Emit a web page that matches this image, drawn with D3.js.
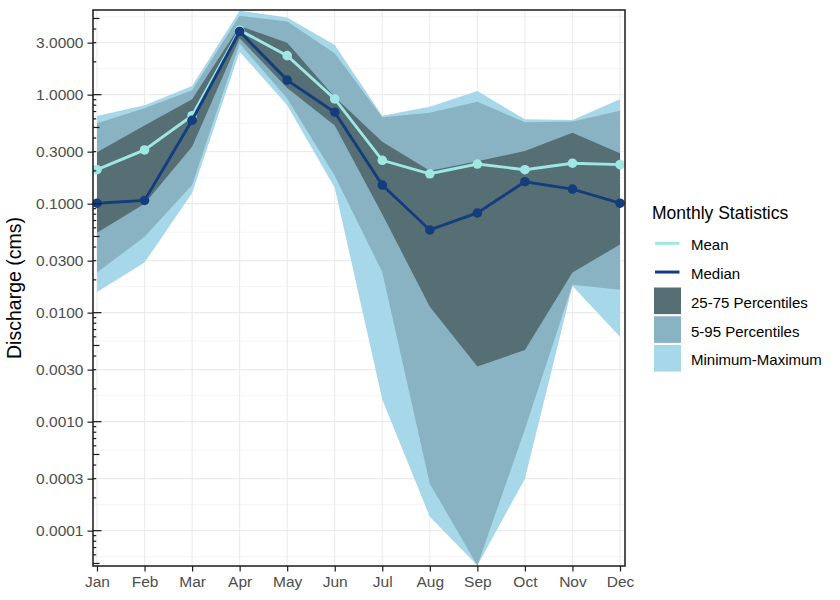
<!DOCTYPE html>
<html>
<head>
<meta charset="utf-8">
<script src="https://cdn.jsdelivr.net/npm/d3@7"></script>
<style>
  body { margin: 0; background: #fff; }
  text { font-family: "Liberation Sans", Arial, Helvetica, sans-serif; }
</style>
</head>
<body>
<script>
// monthly discharge statistics (cms)
var months = ['Jan','Feb','Mar','Apr','May','Jun','Jul','Aug','Sep','Oct','Nov','Dec'];
var meanQ   = [0.205, 0.311, 0.641, 3.9, 2.28, 0.913, 0.25, 0.188, 0.231, 0.205, 0.235, 0.228];
var medianQ = [0.101, 0.107, 0.582, 3.8, 1.36, 0.69, 0.148, 0.0574, 0.0822, 0.159, 0.136, 0.101];
var minQ    = [0.0155, 0.0288, 0.125, 2.48, 0.80, 0.14, 0.0016, 0.000134, 0.000048, 0.0003, 0.0176, 0.006];
var p5Q     = [0.0233, 0.0498, 0.148, 2.95, 0.92, 0.18, 0.0236, 0.00027, 0.000048, 0.00085, 0.018, 0.0162];
var p25Q    = [0.0542, 0.10, 0.333, 3.3, 1.15, 0.52, 0.08, 0.01135, 0.0032, 0.00455, 0.0233, 0.0423];
var p75Q    = [0.296, 0.52, 0.908, 4.27, 3.0, 0.95, 0.37, 0.2, 0.245, 0.304, 0.448, 0.29];
var p95Q    = [0.546, 0.75, 1.1, 5.3, 4.68, 2.4, 0.62, 0.684, 0.863, 0.558, 0.566, 0.713];
var maxQ    = [0.636, 0.80, 1.2, 5.9, 5.1, 2.86, 0.64, 0.776, 1.08, 0.594, 0.586, 0.908];
var yTicks  = [0.0001, 0.0003, 0.001, 0.003, 0.01, 0.03, 0.1, 0.3, 1, 3];

var W = 840, H = 600
var panel = { left: 93, right: 625, top: 10, bottom: 566 }

var colMinMax = '#a6d8e9', col595 = '#89b2c3', col2575 = '#566f75'
var colMean = '#9fe7e2', colMedian = '#143d7e'

var svg = d3.select('body').append('svg')
    .attr('width', W)
    .attr('height', H)

// Scales
var x = d3.scalePoint()
    .domain(months)
    .range([97, 620])
var y = d3.scaleLog()
    .domain([4.74e-5, 5.98])
    .range([panel.bottom, panel.top])

// grid: minor lines sit halfway (log space) between the major breaks
var logT = yTicks.map(function (v) { return Math.log10(v) })
var minor = []
for (var i = 0; i < logT.length - 1; i++) minor.push((logT[i] + logT[i + 1]) / 2)
minor.unshift(logT[0] - (logT[1] - logT[0]) / 2)
minor.push(logT[logT.length - 1] + (logT[logT.length - 1] - logT[logT.length - 2]) / 2)

var grid = svg.append('g')
grid.selectAll('.minor')
    .data(minor.filter(function (m) { var p = y(Math.pow(10, m)); return p > panel.top && p < panel.bottom }))
    .enter().append('line')
    .attr('x1', panel.left).attr('x2', panel.right)
    .attr('y1', function (m) { return y(Math.pow(10, m)) })
    .attr('y2', function (m) { return y(Math.pow(10, m)) })
    .attr('stroke', '#f2f2f2').attr('stroke-width', 0.8)
grid.selectAll('.major')
    .data(yTicks)
    .enter().append('line')
    .attr('x1', panel.left).attr('x2', panel.right)
    .attr('y1', function (d) { return y(d) }).attr('y2', function (d) { return y(d) })
    .attr('stroke', '#ebebeb').attr('stroke-width', 1.1)
grid.selectAll('.vgrid')
    .data(months)
    .enter().append('line')
    .attr('x1', function (d) { return x(d) }).attr('x2', function (d) { return x(d) })
    .attr('y1', panel.top).attr('y2', panel.bottom)
    .attr('stroke', '#ebebeb').attr('stroke-width', 1.1)

svg.append('clipPath').attr('id', 'clip')
  .append('rect')
    .attr('x', panel.left).attr('y', panel.top)
    .attr('width', panel.right - panel.left).attr('height', panel.bottom - panel.top)

var plot = svg.append('g').attr('clip-path', 'url(#clip)')

function band(lo, hi) {
  return d3.area()
    .x(function (d, i) { return x(months[i]) })
    .y0(function (d, i) { return y(lo[i]) })
    .y1(function (d, i) { return y(hi[i]) })(months)
}
plot.append('path').attr('d', band(minQ, maxQ)).attr('fill', colMinMax)
plot.append('path').attr('d', band(p5Q, p95Q)).attr('fill', col595)
plot.append('path').attr('d', band(p25Q, p75Q)).attr('fill', col2575)

function drawSeries(vals, col) {
  var line = d3.line()
      .x(function (d, i) { return x(months[i]) })
      .y(function (d) { return y(d) })
  plot.append('path')
      .attr('d', line(vals))
      .attr('fill', 'none')
      .attr('stroke', col)
      .attr('stroke-width', 2.9)
  plot.selectAll(null)
      .data(vals)
      .enter().append('circle')
      .attr('cx', function (d, i) { return x(months[i]) })
      .attr('cy', function (d) { return y(d) })
      .attr('r', 4.8)
      .attr('fill', col)
}
drawSeries(meanQ, colMean)
drawSeries(medianQ, colMedian)

// panel border
svg.append('rect')
    .attr('x', panel.left).attr('y', panel.top)
    .attr('width', panel.right - panel.left).attr('height', panel.bottom - panel.top)
    .attr('fill', 'none').attr('stroke', '#1a1a1a').attr('stroke-width', 1.5)

// X-axis
var xAxis = d3.axisBottom(x).tickSizeInner(5.5).tickSizeOuter(0).tickPadding(2)
var gx = svg.append('g')
    .attr('transform', 'translate(0,' + panel.bottom + ')')
    .call(xAxis)
gx.select('.domain').remove()
gx.selectAll('line').attr('stroke', '#1a1a1a').attr('stroke-width', 1.2)
gx.selectAll('text')
    .attr('fill', '#4d4d4d')
    .attr('font-size', '15.5px')
    .attr('dy', '0.9em')

// Y-axis
var yAxis = d3.axisLeft(y).tickValues(yTicks).tickFormat(d3.format('.4f'))
    .tickSizeInner(5.5).tickSizeOuter(0).tickPadding(4)
var gy = svg.append('g')
    .attr('transform', 'translate(' + panel.left + ',0)')
    .call(yAxis)
gy.select('.domain').remove()
gy.selectAll('line').attr('stroke', '#1a1a1a').attr('stroke-width', 1.2)
gy.selectAll('text')
    .attr('fill', '#4d4d4d')
    .attr('font-size', '15.5px')

// log ticks on the inside of the left border
var logTicks = []
for (var e = -5; e <= 0; e++) {
  for (var k = 1; k <= 9; k++) {
    var v = k * Math.pow(10, e)
    if (v >= y.domain()[0] && v <= y.domain()[1]) logTicks.push({ v: v, k: k })
  }
}
svg.append('g').selectAll('line')
    .data(logTicks)
    .enter().append('line')
    .attr('x1', panel.left)
    .attr('x2', function (d) { return panel.left + (d.k === 1 ? 8.5 : d.k === 5 ? 6.5 : 3.2) })
    .attr('y1', function (d) { return y(d.v) })
    .attr('y2', function (d) { return y(d.v) })
    .attr('stroke', '#1a1a1a').attr('stroke-width', 1.2)

// Y-axis label
svg.append('text')
    .attr('transform', 'translate(21,' + (panel.top + panel.bottom) / 2 + ') rotate(-90)')
    .attr('text-anchor', 'middle')
    .attr('font-size', '19.5px')
    .attr('fill', '#000')
    .text('Discharge (cms)')

// Legend
var legend = svg.append('g')
legend.append('text')
    .attr('x', 652).attr('y', 219)
    .attr('font-size', '17.5px')
    .attr('fill', '#000')
    .text('Monthly Statistics')

var legendItems = [
  { label: 'Mean', type: 'line', col: colMean },
  { label: 'Median', type: 'line', col: colMedian },
  { label: '25-75 Percentiles', type: 'rect', col: col2575 },
  { label: '5-95 Percentiles', type: 'rect', col: col595 },
  { label: 'Minimum-Maximum', type: 'rect', col: colMinMax }
]
legendItems.forEach(function (it, i) {
  var cy = 243.3 + i * 28.75
  if (it.type === 'line') {
    legend.append('line')
        .attr('x1', 655).attr('x2', 679.5)
        .attr('y1', cy).attr('y2', cy)
        .attr('stroke', it.col).attr('stroke-width', 3)
  } else {
    legend.append('rect')
        .attr('x', 654).attr('y', cy - 13.3)
        .attr('width', 27).attr('height', 26.6)
        .attr('fill', it.col)
  }
  legend.append('text')
      .attr('x', 691).attr('y', cy + 1.5)
      .attr('dominant-baseline', 'central')
      .attr('font-size', '15px')
      .attr('fill', '#000')
      .text(it.label)
})
</script>
</body>
</html>
